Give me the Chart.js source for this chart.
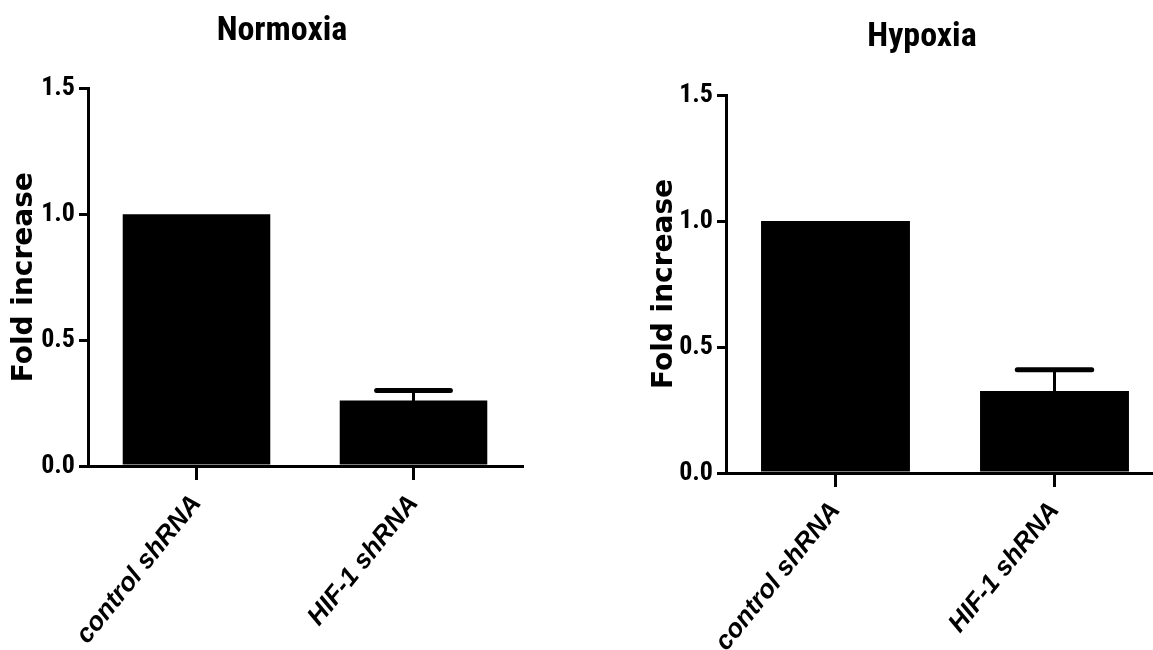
<!DOCTYPE html>
<html>
<head>
<meta charset="utf-8">
<script src="https://cdn.jsdelivr.net/npm/chart.js@4.4.0/dist/chart.umd.min.js"></script>
<style>
  html, body { margin: 0; padding: 0; background: #fff; overflow: hidden; width: 1153px; height: 650px; }
  .panel { position: absolute; }
  #normoxiaWrap { left: 0; top: 0; }
  #hypoxiaWrap { left: 640px; top: 6px; }
</style>
</head>
<body>
<div class="panel" id="normoxiaWrap"><canvas id="normoxiaChart" width="570" height="650"></canvas></div>
<div class="panel" id="hypoxiaWrap"><canvas id="hypoxiaChart" width="524" height="644"></canvas></div>
<script>
// data
const categories = ['control shRNA', 'HIF-1 shRNA'];
const normoxiaValues = [1.0, 0.26];
const normoxiaErrors = [0, 0.04];
const hypoxiaValues = [1.0, 0.325];
const hypoxiaErrors = [0, 0.085];
const yTicks = [0, 0.5, 1.0, 1.5];

const narrowBold = '"Liberation Sans Narrow", "Arial Narrow", "Roboto Condensed", sans-serif';

// error bars (upper only) drawn from the y scale
const errorBarPlugin = {
    id: 'errorBars',
    afterDatasetsDraw(chart, args, opts) {
        const meta = chart.getDatasetMeta(0);
        const yScale = chart.scales.y;
        const ctx = chart.ctx;
        const data = chart.data.datasets[0].data;
        ctx.save();
        ctx.strokeStyle = '#000';
        ctx.lineCap = 'round';
        meta.data.forEach((bar, i) => {
            const err = opts.errors[i];
            if (!err) return;
            const yTop = yScale.getPixelForValue(data[i]);
            const yErr = yScale.getPixelForValue(data[i] + err);
            const half = bar.width * 0.25;
            ctx.lineWidth = 3;
            ctx.beginPath();
            ctx.moveTo(bar.x, yTop);
            ctx.lineTo(bar.x, yErr);
            ctx.stroke();
            ctx.lineWidth = 5;
            ctx.beginPath();
            ctx.moveTo(bar.x - half, yErr);
            ctx.lineTo(bar.x + half, yErr);
            ctx.stroke();
        });
        ctx.restore();
    }
};

// panel title, placed off-centre like the original
const panelTitlePlugin = {
    id: 'panelTitle',
    afterDraw(chart, args, opts) {
        const ctx = chart.ctx;
        ctx.save();
        ctx.font = 'bold 34px ' + narrowBold;
        ctx.fillStyle = '#000';
        ctx.textAlign = 'center';
        ctx.textBaseline = 'middle';
        ctx.fillText(opts.text, opts.x, opts.y);
        ctx.restore();
    }
};

function makePanel(id, title, values, errors, cfg) {
    return new Chart(document.getElementById(id), {
        type: 'bar',
        data: {
            labels: categories,
            datasets: [{
                data: values,
                backgroundColor: '#000',
                borderWidth: 0,
                barPercentage: 0.68,
                categoryPercentage: 1.0
            }]
        },
        options: {
            responsive: false,
            animation: false,
            layout: { padding: { top: cfg.top, right: cfg.right, bottom: 0, left: 0 } },
            plugins: {
                legend: { display: false },
                tooltip: { enabled: false },
                title: { display: false },
                errorBars: { errors: errors },
                panelTitle: { text: title, x: cfg.titleX, y: cfg.titleY }
            },
            scales: {
                x: {
                    offset: true,
                    grid: {
                        offset: false,
                        drawOnChartArea: false,
                        color: '#000',
                        lineWidth: 3,
                        tickLength: 14
                    },
                    border: { display: true, color: '#000', width: 3 },
                    ticks: {
                        color: '#000',
                        autoSkip: false,
                        minRotation: 51,
                        maxRotation: 51,
                        padding: 9,
                        font: { family: 'Liberation Sans, Arial, sans-serif', size: 26, weight: 'bold', style: 'italic' }
                    },
                    afterFit(scale) { scale.height = cfg.xHeight; }
                },
                y: {
                    min: 0,
                    max: 1.5,
                    grid: {
                        drawOnChartArea: false,
                        color: '#000',
                        lineWidth: 3,
                        tickLength: 9
                    },
                    border: { display: true, color: '#000', width: 3 },
                    ticks: {
                        color: '#000',
                        padding: 4,
                        font: { family: narrowBold, size: 26, weight: 'bold' },
                        callback: v => v.toFixed(1)
                    },
                    afterBuildTicks(scale) { scale.ticks = yTicks.map(v => ({ value: v })); },
                    title: {
                        display: true,
                        text: 'Fold increase',
                        color: '#000',
                        padding: { top: 8, bottom: 0 },
                        font: { family: '"DejaVu Sans", sans-serif', size: 28, weight: 'bold' }
                    },
                    afterFit(scale) { scale.width = cfg.yWidth; }
                }
            }
        },
        plugins: [errorBarPlugin, panelTitlePlugin]
    });
}

makePanel('normoxiaChart', 'Normoxia', normoxiaValues, normoxiaErrors,
    { top: 88.5, right: 48, yWidth: 88, xHeight: 184, titleX: 282, titleY: 31 });
makePanel('hypoxiaChart', 'Hypoxia', hypoxiaValues, hypoxiaErrors,
    { top: 89, right: 0, yWidth: 86, xHeight: 177, titleX: 282, titleY: 31 });
</script>
</body>
</html>
